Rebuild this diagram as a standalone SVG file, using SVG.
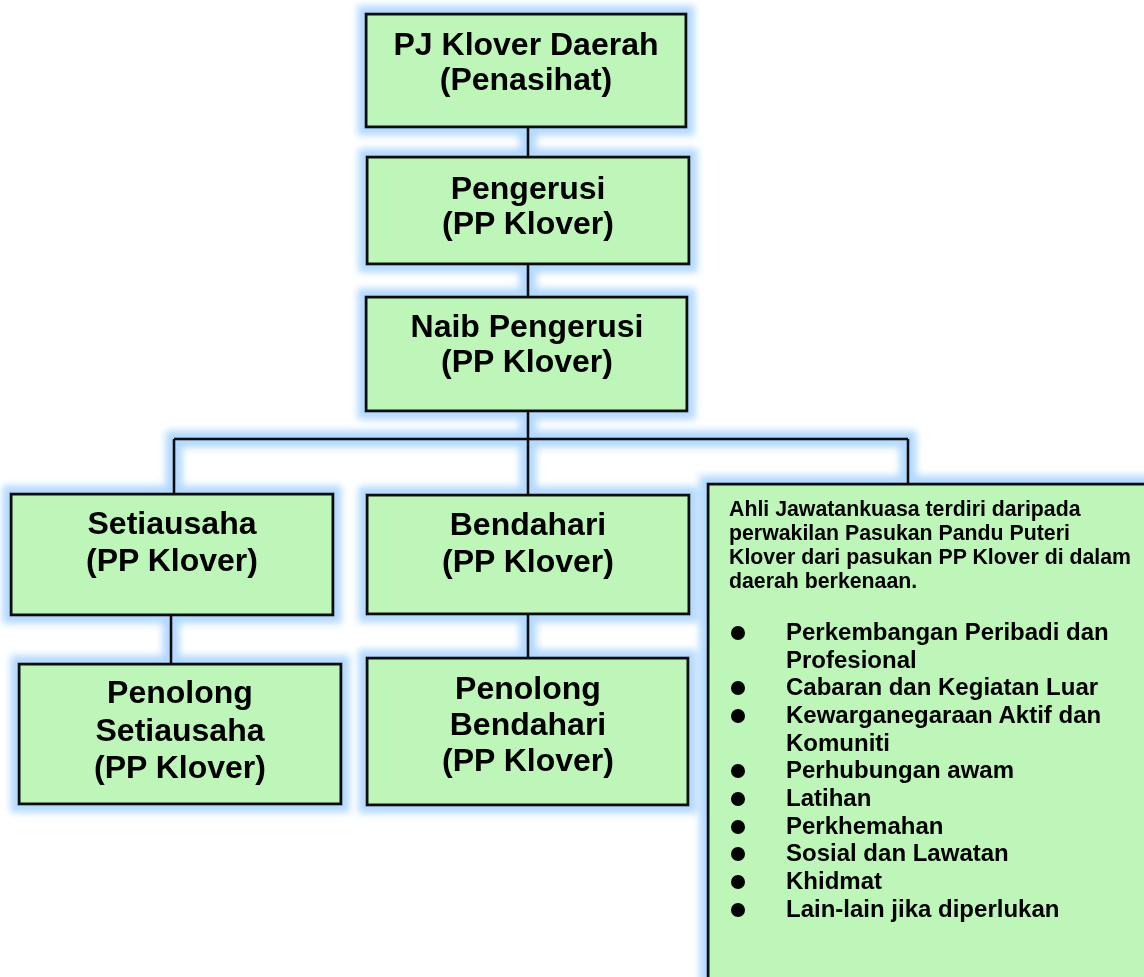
<svg xmlns="http://www.w3.org/2000/svg" width="1144" height="977" viewBox="0 0 1144 977">
<defs>
<filter id="glow" x="-10%" y="-10%" width="120%" height="120%">
<feMorphology in="SourceAlpha" operator="dilate" radius="7" result="d"/>
<feGaussianBlur in="d" stdDeviation="3.5" result="b"/>
<feFlood flood-color="#b3d9ff" flood-opacity="1"/>
<feComposite in2="b" operator="in" result="g"/>
<feMerge><feMergeNode in="g"/><feMergeNode in="SourceGraphic"/></feMerge>
</filter>
</defs>
<style>
.box{fill:#bdf6b8;stroke:#111;stroke-width:3}
.ln{stroke:#111;stroke-width:3;fill:none}
.t{font-family:"Liberation Sans",Arial,sans-serif;font-weight:bold;font-size:32px;fill:#000;text-anchor:middle}
.i{font-family:"Liberation Sans",Arial,sans-serif;font-weight:bold;font-size:21.3px;fill:#000}
.b{font-family:"Liberation Sans",Arial,sans-serif;font-weight:bold;font-size:24px;fill:#000}
.dot{fill:#000}
</style>
<rect width="1144" height="977" fill="#fff"/>
<g filter="url(#glow)">
<g id="connectors">
<path class="ln" d="M528 127V157M528 264V297M528 411V439M174 439H908M174 439V494M528 439V495M908 439V484M171 615V664M528 614V658"/>
</g>
<g id="n-pj">
<rect class="box" x="366" y="14" width="320" height="113"/>
<text class="t" x="526" y="55">PJ Klover Daerah</text>
<text class="t" x="526" y="90">(Penasihat)</text>
</g>
<g id="n-pengerusi">
<rect class="box" x="367" y="157" width="322" height="107"/>
<text class="t" x="528" y="199">Pengerusi</text>
<text class="t" x="528" y="234">(PP Klover)</text>
</g>
<g id="n-naib">
<rect class="box" x="366" y="297" width="321" height="114"/>
<text class="t" x="527" y="337">Naib Pengerusi</text>
<text class="t" x="527" y="372">(PP Klover)</text>
</g>
<g id="n-setiausaha">
<rect class="box" x="11" y="494" width="322" height="121"/>
<text class="t" x="172" y="534">Setiausaha</text>
<text class="t" x="172" y="571">(PP Klover)</text>
</g>
<g id="n-bendahari">
<rect class="box" x="367" y="495" width="322" height="119"/>
<text class="t" x="528" y="535">Bendahari</text>
<text class="t" x="528" y="572">(PP Klover)</text>
</g>
<g id="n-pen-setiausaha">
<rect class="box" x="19" y="664" width="322" height="140"/>
<text class="t" x="180" y="703">Penolong</text>
<text class="t" x="180" y="741">Setiausaha</text>
<text class="t" x="180" y="778">(PP Klover)</text>
</g>
<g id="n-pen-bendahari">
<rect class="box" x="367" y="658" width="321" height="147"/>
<text class="t" x="528" y="699">Penolong</text>
<text class="t" x="528" y="735">Bendahari</text>
<text class="t" x="528" y="771">(PP Klover)</text>
</g>
<g id="n-ajk">
<rect class="box" x="708" y="484" width="460" height="520"/>
<text class="i" x="729" y="516">Ahli Jawatankuasa terdiri daripada</text>
<text class="i" x="729" y="540">perwakilan Pasukan Pandu Puteri</text>
<text class="i" x="729" y="564">Klover dari pasukan PP Klover di dalam</text>
<text class="i" x="729" y="588">daerah berkenaan.</text>
<circle class="dot" cx="738" cy="633" r="7"/>
<text class="b" x="786" y="640">Perkembangan Peribadi dan</text>
<text class="b" x="786" y="668">Profesional</text>
<circle class="dot" cx="738" cy="688" r="7"/>
<text class="b" x="786" y="695">Cabaran dan Kegiatan Luar</text>
<circle class="dot" cx="738" cy="716" r="7"/>
<text class="b" x="786" y="723">Kewarganegaraan Aktif dan</text>
<text class="b" x="786" y="751">Komuniti</text>
<circle class="dot" cx="738" cy="771" r="7"/>
<text class="b" x="786" y="778">Perhubungan awam</text>
<circle class="dot" cx="738" cy="799" r="7"/>
<text class="b" x="786" y="806">Latihan</text>
<circle class="dot" cx="738" cy="827" r="7"/>
<text class="b" x="786" y="834">Perkhemahan</text>
<circle class="dot" cx="738" cy="854" r="7"/>
<text class="b" x="786" y="861">Sosial dan Lawatan</text>
<circle class="dot" cx="738" cy="882" r="7"/>
<text class="b" x="786" y="889">Khidmat</text>
<circle class="dot" cx="738" cy="910" r="7"/>
<text class="b" x="786" y="917">Lain-lain jika diperlukan</text>
</g>
</g>
</svg>
